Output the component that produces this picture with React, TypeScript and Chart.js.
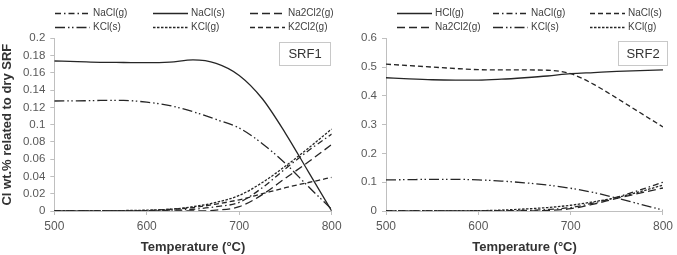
import { useEffect, useRef } from "react";
import { Chart, registerables } from "chart.js";

Chart.register(...registerables);

// Temperature grid (°C) shared by every series
const TEMPS = [500, 525, 550, 575, 600, 625, 650, 675, 700, 725, 750, 775, 800];

// SRF1 — Cl distribution, wt.% related to dry SRF
const SRF1_NACL_G = [0, 0, 0, 0, 0.0003, 0.001, 0.002, 0.005, 0.01, 0.027, 0.049, 0.07, 0.089];
const SRF1_NACL_S = [0.1737, 0.173, 0.1722, 0.172, 0.1718, 0.1725, 0.175, 0.171, 0.157, 0.13, 0.09, 0.045, 0];
const SRF1_NA2CL2_G = [0, 0, 0, 0, 0, 0, 0, 0.001, 0.005, 0.019, 0.038, 0.057, 0.077];
const SRF1_KCL_S = [0.1274, 0.1275, 0.128, 0.128, 0.126, 0.122, 0.115, 0.106, 0.096, 0.078, 0.055, 0.028, 0.002];
const SRF1_KCL_G = [0, 0, 0, 0.0005, 0.001, 0.002, 0.005, 0.01, 0.018, 0.033, 0.052, 0.073, 0.095];
const SRF1_K2CL2_G = [0, 0, 0, 0, 0.0005, 0.002, 0.004, 0.008, 0.013, 0.02, 0.027, 0.033, 0.039];

// SRF2 — Cl distribution, wt.% related to dry SRF
const SRF2_HCL_G = [0.463, 0.459, 0.456, 0.455, 0.455, 0.458, 0.463, 0.469, 0.477, 0.481, 0.485, 0.488, 0.49];
const SRF2_NACL_G = [0, 0, 0, 0, 0, 0.001, 0.002, 0.005, 0.012, 0.028, 0.048, 0.073, 0.1];
const SRF2_NACL_S = [0.51, 0.505, 0.5, 0.495, 0.491, 0.49, 0.49, 0.489, 0.477, 0.44, 0.392, 0.342, 0.292];
const SRF2_NA2CL2_G = [0, 0, 0, 0, 0, 0, 0, 0.002, 0.008, 0.024, 0.044, 0.062, 0.08];
const SRF2_KCL_S = [0.108, 0.109, 0.11, 0.11, 0.108, 0.104, 0.098, 0.09, 0.079, 0.064, 0.045, 0.024, 0.003];
const SRF2_KCL_G = [0, 0, 0, 0.0005, 0.001, 0.003, 0.007, 0.012, 0.02, 0.032, 0.047, 0.067, 0.09];

const X_TICKS = [500, 600, 700, 800];

const FONT = '"Liberation Sans", Arial, Helvetica, sans-serif';
const LINE = "#262626";
const AXIS = "#bfbfbf";
const TICK_TEXT = "#595959";

// line styles
const DASH_DOT = [6, 3, 1.5, 3];
const LONG_DASH_DOT_DOT = [10, 3, 1.5, 2.5, 1.5, 3];
const LONG_DASH = [8, 4];
const MED_DASH = [5, 3];
const SHORT_DASH = [2.5, 1.5];
const SOLID: number[] = [];

type Series = { label: string; values: number[]; dash: number[] };

const SRF1_SERIES: Series[] = [
  { label: "NaCl(g)", values: SRF1_NACL_G, dash: DASH_DOT },
  { label: "NaCl(s)", values: SRF1_NACL_S, dash: SOLID },
  { label: "Na2Cl2(g)", values: SRF1_NA2CL2_G, dash: LONG_DASH },
  { label: "KCl(s)", values: SRF1_KCL_S, dash: LONG_DASH_DOT_DOT },
  { label: "KCl(g)", values: SRF1_KCL_G, dash: SHORT_DASH },
  { label: "K2Cl2(g)", values: SRF1_K2CL2_G, dash: MED_DASH },
];

const SRF2_SERIES: Series[] = [
  { label: "HCl(g)", values: SRF2_HCL_G, dash: SOLID },
  { label: "NaCl(g)", values: SRF2_NACL_G, dash: DASH_DOT },
  { label: "NaCl(s)", values: SRF2_NACL_S, dash: MED_DASH },
  { label: "Na2Cl2(g)", values: SRF2_NA2CL2_G, dash: LONG_DASH },
  { label: "KCl(s)", values: SRF2_KCL_S, dash: LONG_DASH_DOT_DOT },
  { label: "KCl(g)", values: SRF2_KCL_G, dash: SHORT_DASH },
];

type PanelLayout = {
  tag: string;
  yMax: number;
  yStep: number;
  yTitle: string | null;
  axisLeft: number; // width reserved for the y axis
  padRight: number;
  legendCols: number[];
  tagBox: { x: number; y: number; w: number; h: number };
};

const fmt = (v: number) => String(Number(Number(v).toFixed(3)));

// Two-row legend with short line samples plus the panel tag box
function overlayPlugin(layout: PanelLayout) {
  return {
    id: "panelOverlay",
    afterDraw(chart: Chart) {
      const ctx = chart.ctx;
      ctx.save();
      const rows = [13, 27];
      const sample = 35;
      chart.data.datasets.forEach((ds: any, i: number) => {
        const x = layout.legendCols[i % 3];
        const y = rows[Math.floor(i / 3)];
        ctx.beginPath();
        ctx.setLineDash(ds.borderDash || []);
        ctx.lineWidth = ds.borderWidth;
        ctx.strokeStyle = ds.borderColor;
        ctx.moveTo(x, y + 0.5);
        ctx.lineTo(x + sample, y + 0.5);
        ctx.stroke();
        ctx.setLineDash([]);
        ctx.fillStyle = "#404040";
        ctx.font = `10px ${FONT}`;
        ctx.textBaseline = "middle";
        ctx.textAlign = "left";
        ctx.fillText(ds.label, x + sample + 3, y + 0.5);
      });
      const b = layout.tagBox;
      ctx.fillStyle = "#ffffff";
      ctx.fillRect(b.x, b.y, b.w, b.h);
      ctx.strokeStyle = "#c8c8c8";
      ctx.lineWidth = 1;
      ctx.strokeRect(b.x + 0.5, b.y + 0.5, b.w, b.h);
      ctx.fillStyle = "#333333";
      ctx.font = `13px ${FONT}`;
      ctx.textAlign = "center";
      ctx.textBaseline = "middle";
      ctx.fillText(layout.tag, b.x + b.w / 2 + 0.5, b.y + b.h / 2 + 1);
      ctx.restore();
    },
  };
}

function Panel({ series, layout, width, left }: { series: Series[]; layout: PanelLayout; width: number; left: number }) {
  const ref = useRef<HTMLCanvasElement | null>(null);

  useEffect(() => {
    if (!ref.current) return;
    const chart = new Chart(ref.current, {
      type: "line",
      data: {
        datasets: series.map((s) => ({
          label: s.label,
          data: TEMPS.map((t, i) => ({ x: t, y: s.values[i] })),
          borderColor: LINE,
          borderWidth: 1.3,
          borderDash: s.dash,
          pointRadius: 0,
          fill: false,
          cubicInterpolationMode: "monotone" as const,
        })),
      },
      options: {
        responsive: false,
        animation: false,
        layout: { padding: { left: 0, right: layout.padRight, top: 38.3, bottom: 0 } },
        plugins: { legend: { display: false }, tooltip: { enabled: false } },
        scales: {
          x: {
            type: "linear",
            min: 500,
            max: 800,
            afterBuildTicks: (scale: any) => {
              scale.ticks = X_TICKS.map((v) => ({ value: v }));
            },
            ticks: { color: TICK_TEXT, font: { family: FONT, size: 12 }, padding: 4 },
            grid: { drawOnChartArea: false, drawTicks: true, tickLength: 4, color: AXIS },
            border: { color: AXIS },
            title: {
              display: true,
              text: "Temperature (°C)",
              color: "#333333",
              font: { family: FONT, size: 13, weight: "bold" },
              padding: { top: 0, bottom: 0 },
            },
            afterFit: (scale: any) => {
              scale.height = 44;
            },
          },
          y: {
            min: 0,
            max: layout.yMax,
            ticks: {
              stepSize: layout.yStep,
              color: TICK_TEXT,
              font: { family: FONT, size: 11.5 },
              padding: 5,
              callback: (v: any) => fmt(v),
            },
            grid: { drawOnChartArea: false, drawTicks: true, tickLength: 4, color: AXIS },
            border: { color: AXIS },
            title: {
              display: !!layout.yTitle,
              text: layout.yTitle || "",
              color: "#333333",
              font: { family: FONT, size: 13, weight: "bold" },
              padding: { top: 0, bottom: 0 },
            },
            afterFit: (scale: any) => {
              scale.width = layout.axisLeft;
            },
          },
        },
      },
      plugins: [overlayPlugin(layout)],
    });
    return () => chart.destroy();
  }, [series, layout]);

  return (
    <canvas
      ref={ref}
      width={width}
      height={255}
      style={{ position: "absolute", left, top: 0, width, height: 255 }}
    />
  );
}

const SRF1_LAYOUT: PanelLayout = {
  tag: "SRF1",
  yMax: 0.2,
  yStep: 0.02,
  yTitle: "Cl wt.% related to dry SRF",
  axisLeft: 54.3,
  padRight: 18.3,
  legendCols: [55, 153, 250],
  tagBox: { x: 279, y: 42, w: 51, h: 23 },
};

const SRF2_LAYOUT: PanelLayout = {
  tag: "SRF2",
  yMax: 0.6,
  yStep: 0.1,
  yTitle: null,
  axisLeft: 46,
  padRight: 11.3,
  legendCols: [57, 153, 250],
  tagBox: { x: 278, y: 41, w: 49, h: 24 },
};

export default function App() {
  return (
    <div style={{ position: "absolute", left: 0, top: 0, width: 677, height: 255, background: "#fff", overflow: "hidden" }}>
      <Panel series={SRF1_SERIES} layout={SRF1_LAYOUT} width={350} left={0} />
      <Panel series={SRF2_SERIES} layout={SRF2_LAYOUT} width={337} left={340} />
    </div>
  );
}
